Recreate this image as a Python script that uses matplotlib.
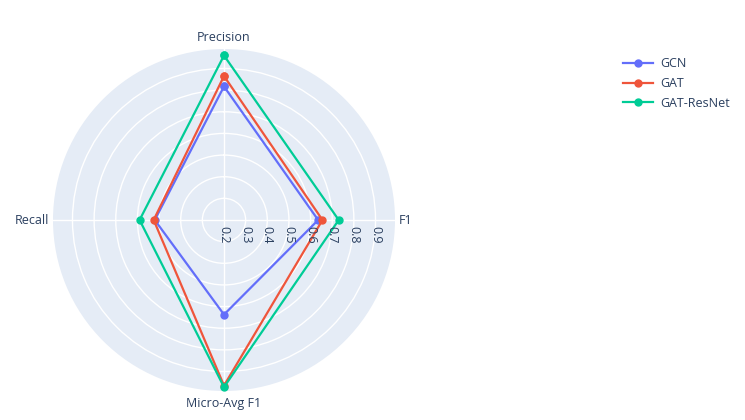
import numpy as np
import matplotlib
matplotlib.use("Agg")
import matplotlib.pyplot as plt
from matplotlib.lines import Line2D

categories = ["Precision", "Recall", "Micro-Avg F1", "F1"]
series_names = ["GCN", "GAT", "GAT-ResNet"]
gcn = [0.817, 0.52, 0.637, 0.635]
gat = [0.865, 0.525, 0.965, 0.655]
gat_resnet = [0.96, 0.59, 0.972, 0.73]
radial_ticks = [0.2, 0.3, 0.4, 0.5, 0.6, 0.7, 0.8, 0.9]
r_range = [0.2, 0.99]

colors = ["#636efa", "#EF553B", "#00cc96"]
text_color = "#2a3f5f"
plt.rcParams["font.family"] = ["Open Sans", "DejaVu Sans"]

W, H = 745, 420
fig = plt.figure(figsize=(W / 100, H / 100), dpi=100)
cx, cy, R = 224, 220, 171
ax = fig.add_axes([(cx - R) / W, (H - cy - R) / H, 2 * R / W, 2 * R / H], projection="polar")
ax.set_facecolor("#E5ECF6")
ax.set_theta_offset(np.pi / 2)
ax.set_theta_direction(1)

n = len(categories)
angles = np.arange(n) * 2 * np.pi / n
ang_closed = np.concatenate([angles, angles[:1]])

for name, vals, c in zip(series_names, [gcn, gat, gat_resnet], colors):
    v = list(vals) + [vals[0]]
    ax.plot(ang_closed, v, color=c, lw=1.6, marker="o", ms=5, label=name, zorder=3,
            clip_on=False)

ax.set_ylim(*r_range)
ax.set_yticks(radial_ticks)
ax.set_yticklabels([])
ax.set_xticks(angles)
ax.set_xticklabels([])
ax.grid(True, color="white", lw=1)
ax.spines["polar"].set_visible(False)

px = 0.72  # points per pixel
label_specs = [((0, 5), "center", "bottom"),
               ((-4, 0), "right", "center"),
               ((0, -6), "center", "top"),
               ((4, 0), "left", "center")]
for a, lab, (off, ha, va) in zip(angles, categories, label_specs):
    ax.annotate(lab, xy=(a, r_range[1]), xytext=(off[0] * px, off[1] * px),
                textcoords="offset points", ha=ha, va=va, fontsize=9, color=text_color,
                annotation_clip=False)

f1_angle = angles[categories.index("F1")]
for t in radial_ticks:
    ax.annotate(f"{t:g}", xy=(f1_angle, t), xytext=(0, -6 * px), textcoords="offset points",
                rotation=-90, ha="center", va="top", fontsize=9, color=text_color,
                annotation_clip=False)

handles = [Line2D([0], [0], color=c, lw=1.6, marker="o", ms=5) for c in colors]
fig.legend(handles, series_names, loc="upper left", bbox_to_anchor=(618 / W, 1 - 52 / H),
           frameon=False, fontsize=9, labelcolor=text_color, handlelength=2.4,
           handletextpad=0.6, labelspacing=0.55, borderaxespad=0)

fig.savefig("out.png", dpi=100, facecolor="white")
